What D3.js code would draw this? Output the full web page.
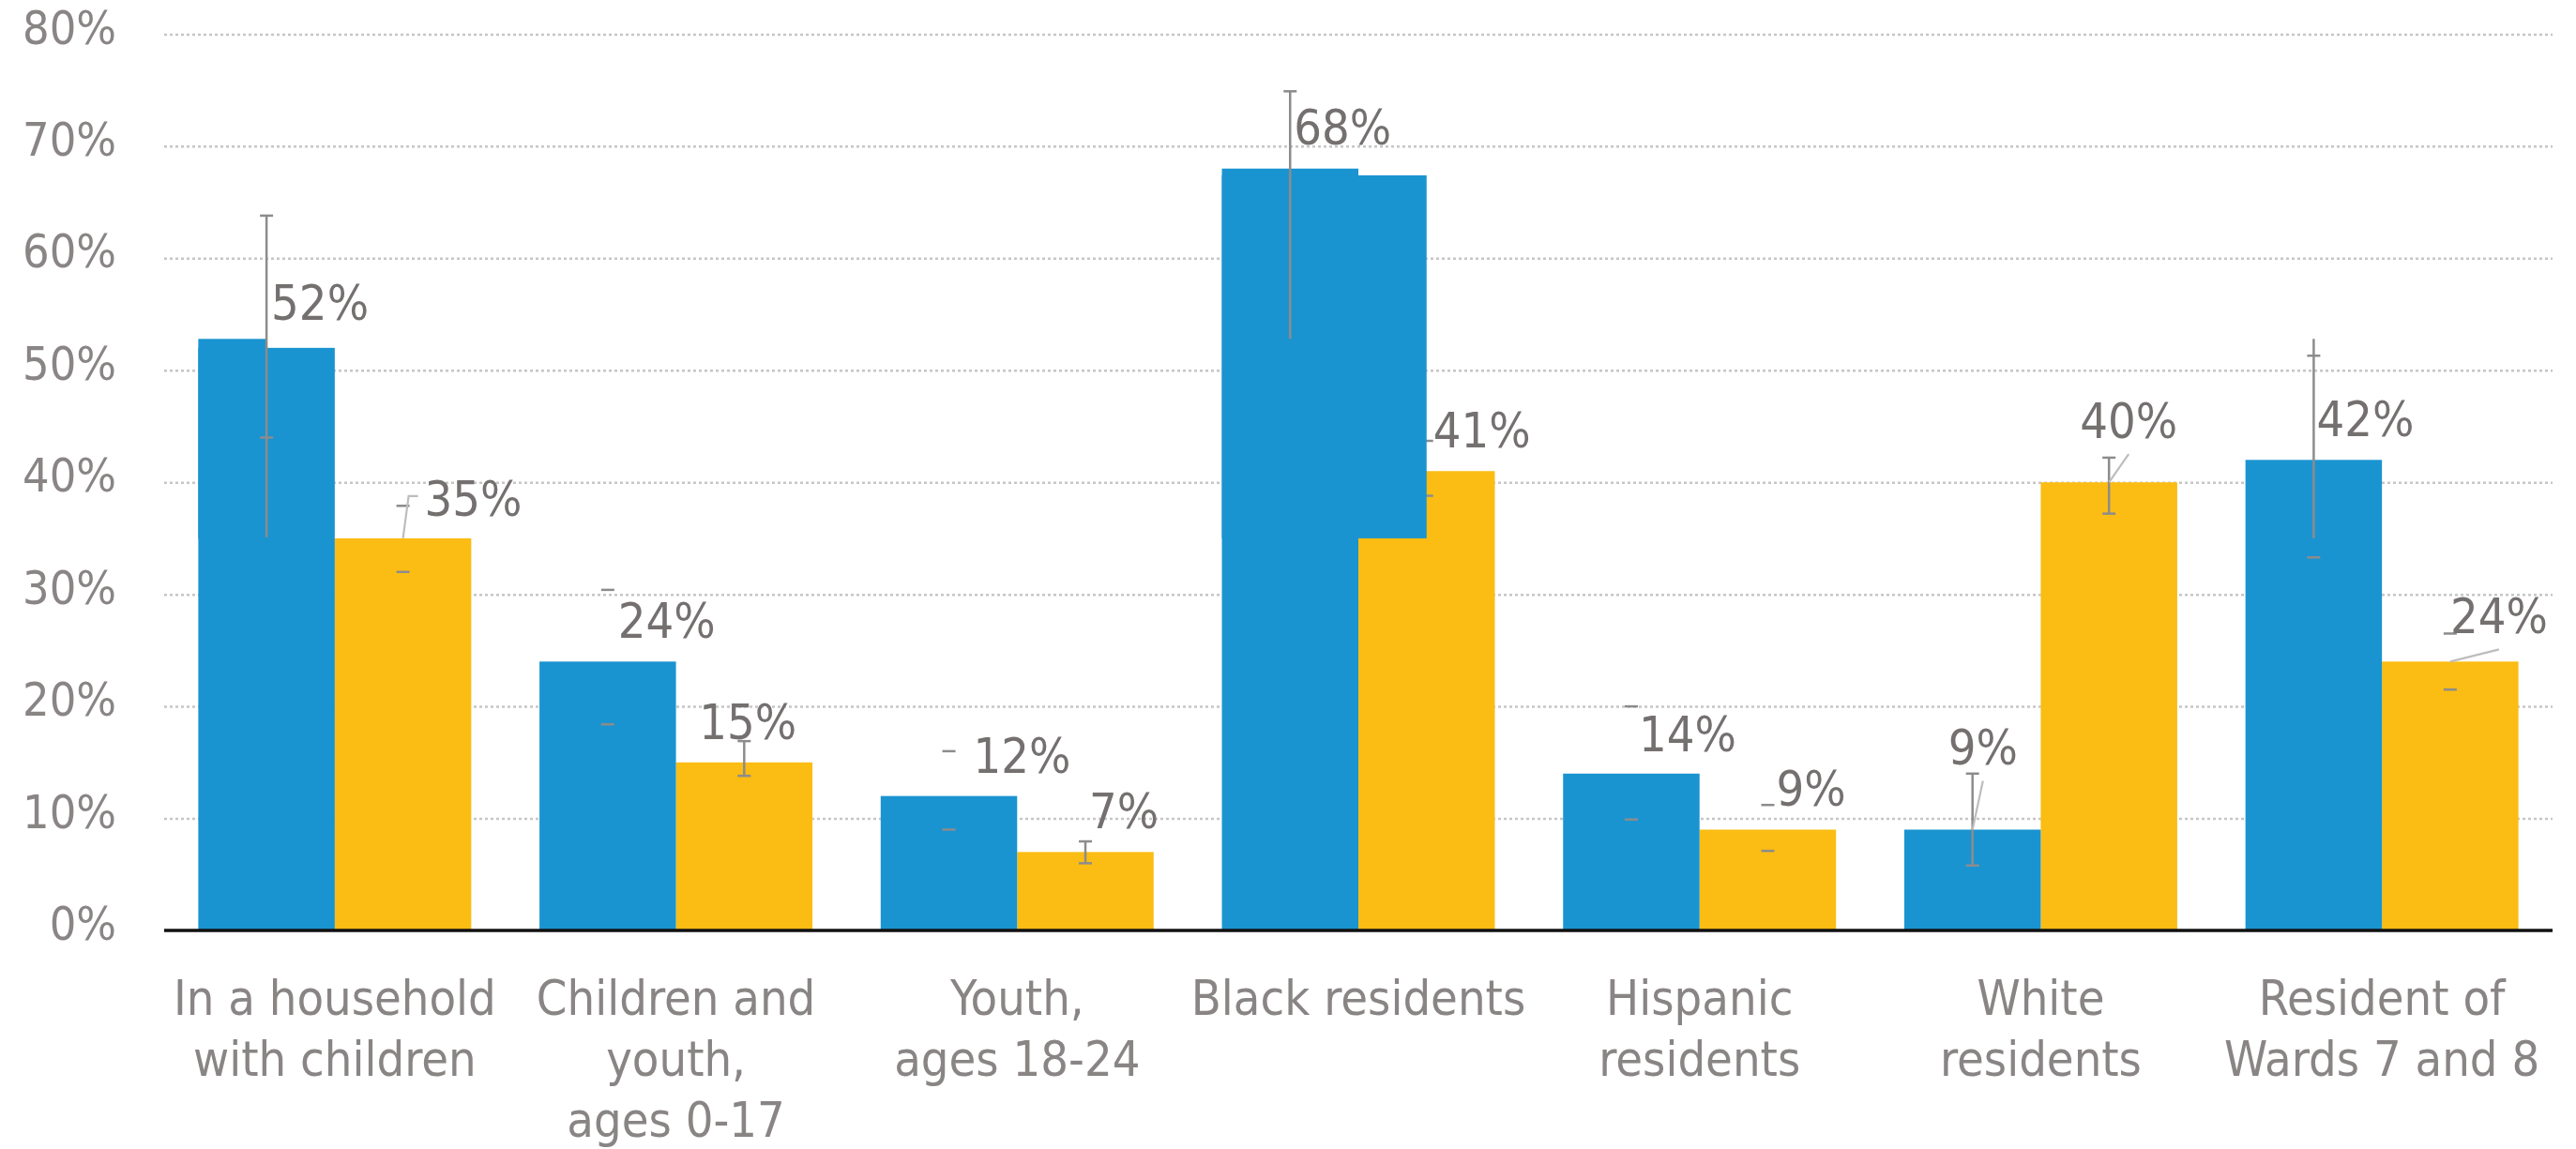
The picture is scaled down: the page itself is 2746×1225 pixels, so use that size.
<!DOCTYPE html>
<html lang="en">
<head>
  <meta charset="UTF-8">
  <title>Share by group</title>
  <style>
    * {box-sizing: border-box;}
    html, body {
      margin: 0;
      padding: 0;
      background: #fff;
    }
    svg text {
      font-family: "DejaVu Sans", sans-serif;
      font-stretch: condensed;
    }
  </style>
</head>
<body>
  <svg id="chart"></svg>

  <script src="https://d3js.org/d3.v7.min.js"></script>
  <script>
    // categories, one entry per line of the axis label
    const categories = [
      ['In a household', 'with children'],
      ['Children and', 'youth,', 'ages 0-17'],
      ['Youth,', 'ages 18-24'],
      ['Black residents'],
      ['Hispanic', 'residents'],
      ['White', 'residents'],
      ['Resident of', 'Wards 7 and 8']
    ]
    const blueValues = [52, 24, 12, 68, 14, 9, 42]
    const orangeValues = [35, 15, 7, 41, 9, 40, 24]
    const yTicks = [0, 10, 20, 30, 40, 50, 60, 70, 80]

    // error bar caps (null = no cap) and whisker ranges (null = no line)
    const blueCapLo = [44.0, 18.4, 9.0, null, 9.9, 5.8, 33.3]
    const blueCapHi = [63.8, 30.4, 16.0, 74.9, 20.0, 14.0, 51.3]
    const blueWhisker = [[35.1, 63.8], null, null, [52.8, 74.9], null, [5.8, 14.0], [35.0, 52.8]]
    const orangeCapLo = [32.0, 13.8, 6.0, 38.8, 7.1, 37.2, 21.5]
    const orangeCapHi = [37.9, 16.9, 7.95, 43.7, 11.2, 42.2, 26.5]
    const orangeWhisker = [null, [13.8, 16.9], [6.0, 7.95], null, null, [37.2, 42.2], null]

    // stray blue shapes left in the source chart: group, start/end in bar widths, low/high value
    const ghostGroup = [0, 3]
    const ghostFrom = [0, 0]
    const ghostTo = [0.5, 1.5]
    const ghostLo = [35, 35]
    const ghostHi = [52.8, 67.4]

    // label nudges in px (left of text from bar centre, baseline from bar top)
    const blueLabelDx = [5, 11, 26, 4, 8, -26, 3]
    const blueLabelDy = [-30, -25, -25, -26, -24, -69, -25]
    const orangeLabelDx = [23, -48, 4, 7, 9, -31, 0]
    const orangeLabelDy = [-24, -25, -25, -25, -25, -47, -30]
    // leader line: 0 none, 1 straight to under label, 2 elbow to label left
    const blueLeader = [0, 0, 0, 0, 0, 1, 0]
    const orangeLeader = [2, 0, 0, 0, 0, 1, 1]

    const W = 2746, H = 1225
    const left = 175, right = 2721, y0 = 992, yTop = 36.4
    const BLUE = '#1a94d0', ORANGE = '#fbbd13'
    const LIGHT = '#8a8585', DARK = '#757070', ERR = '#8c8c8c', LEAD = '#bdbdbd'

    const svg = d3.select('#chart').attr('width', W).attr('height', H)

    const x = d3.scaleBand()
      .domain(d3.range(categories.length))
      .range([left, right])
      .paddingInner(0.2)
      .paddingOuter(0.1)
    const xs = d3.scaleBand()
      .domain(['blue', 'orange'])
      .range([0, x.bandwidth()])
    const bw = xs.bandwidth()
    const y = d3.scaleLinear().domain([0, 80]).range([y0, yTop])

    // dotted grid
    svg.append('g')
      .attr('transform', `translate(${left},0)`)
      .call(d3.axisRight(y).tickValues(yTicks.slice(1)).tickSize(right - left).tickFormat(''))
      .call(g => g.select('.domain').remove())
      .call(g => g.selectAll('line')
        .attr('stroke', '#c6c6c6')
        .attr('stroke-width', 2.5)
        .attr('stroke-dasharray', '3,3'))

    // y tick labels
    svg.append('g')
      .attr('transform', 'translate(124,0)')
      .call(d3.axisLeft(y).tickValues(yTicks).tickSize(0).tickPadding(0).tickFormat(d => d + '%'))
      .call(g => g.select('.domain').remove())
      .call(g => g.selectAll('text')
        .attr('fill', LIGHT)
        .attr('font-size', 50)
        .attr('dy', 9.6)
        .attr('dominant-baseline', 'auto'))

    const series = [
      {key: 'orange', color: ORANGE, values: orangeValues, capLo: orangeCapLo, capHi: orangeCapHi, whisker: orangeWhisker},
      {key: 'blue', color: BLUE, values: blueValues, capLo: blueCapLo, capHi: blueCapHi, whisker: blueWhisker}
    ]

    const cx = (i, key) => x(i) + xs(key) + bw / 2

    function drawErrors (s) {
      const g = svg.append('g').attr('stroke', ERR).attr('stroke-width', 2.5)
      s.values.forEach((v, i) => {
        const c = cx(i, s.key)
        if (s.whisker[i]) {
          g.append('line')
            .attr('x1', c).attr('x2', c)
            .attr('y1', y(s.whisker[i][0])).attr('y2', y(s.whisker[i][1]))
        }
        ;[s.capLo[i], s.capHi[i]].forEach(cv => {
          if (cv == null) return
          g.append('line')
            .attr('x1', c - 7).attr('x2', c + 7)
            .attr('y1', y(cv)).attr('y2', y(cv))
        })
      })
    }

    series.forEach(s => {
      svg.append('g')
        .selectAll('rect')
        .data(s.values)
        .join('rect')
        .attr('x', (d, i) => x(i) + xs(s.key))
        .attr('width', bw)
        .attr('y', d => y(d))
        .attr('height', d => y0 - y(d))
        .attr('fill', s.color)

      if (s.key === 'blue') {
        svg.append('g')
          .selectAll('rect')
          .data(ghostGroup)
          .join('rect')
          .attr('x', (g, k) => x(g) + ghostFrom[k] * bw)
          .attr('width', (g, k) => (ghostTo[k] - ghostFrom[k]) * bw)
          .attr('y', (g, k) => y(ghostHi[k]))
          .attr('height', (g, k) => y(ghostLo[k]) - y(ghostHi[k]))
          .attr('fill', BLUE)
      }
      drawErrors(s)
    })

    // baseline
    svg.append('line')
      .attr('x1', left).attr('x2', right)
      .attr('y1', y0).attr('y2', y0)
      .attr('stroke', '#111').attr('stroke-width', 3.5)

    // data labels + leader lines
    const labelSets = [
      {key: 'blue', values: blueValues, dx: blueLabelDx, dy: blueLabelDy, leader: blueLeader},
      {key: 'orange', values: orangeValues, dx: orangeLabelDx, dy: orangeLabelDy, leader: orangeLeader}
    ]
    const leadG = svg.append('g').attr('fill', 'none').attr('stroke', LEAD).attr('stroke-width', 2.2)
    const labG = svg.append('g')
    labelSets.forEach(s => {
      s.values.forEach((v, i) => {
        const c = cx(i, s.key)
        const top = y(v)
        const lx = c + s.dx[i]
        const by = top + s.dy[i]
        const t = labG.append('text')
          .attr('x', lx).attr('y', by)
          .attr('fill', DARK)
          .attr('font-size', 52)
          .text(v + '%')
        const tw = t.node().getComputedTextLength()
        if (s.leader[i] === 1) {
          leadG.append('path')
            .attr('d', d3.line()([[c, top], [lx + tw / 2, by + 17]]))
        } else if (s.leader[i] === 2) {
          leadG.append('path')
            .attr('d', d3.line()([[c, top], [lx - 17, by - 21], [lx - 7, by - 21]]))
        }
      })
    })

    // category labels
    svg.append('g')
      .attr('transform', `translate(0,${y0})`)
      .call(d3.axisBottom(x).tickSize(0).tickFormat(''))
      .call(g => g.select('.domain').remove())
      .call(g => g.selectAll('.tick').each(function (i) {
        const txt = d3.select(this).append('text')
          .attr('fill', LIGHT)
          .attr('font-size', 52)
          .attr('text-anchor', 'middle')
        categories[i].forEach((line, k) => {
          txt.append('tspan')
            .attr('x', 0)
            .attr('y', 90 + k * 65)
            .text(line)
        })
      }))
  </script>
</body>
</html>
